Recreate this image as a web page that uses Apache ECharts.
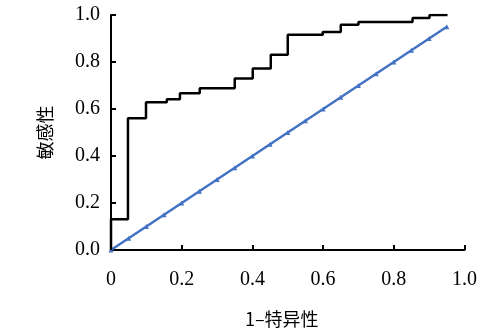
<!DOCTYPE html>
<html>
<head>
<meta charset="utf-8">
<script src="https://cdn.jsdelivr.net/npm/echarts@6/dist/echarts.min.js"></script>
<style>
  html, body { margin: 0; padding: 0; background: #fff; }
  #chart { width: 480px; height: 333px; }
</style>
</head>
<body>
<div id="chart"></div>
<script>
// ROC curve corner points (1-specificity, sensitivity)
const rocFpr = [0, 0, 0.048, 0.099, 0.158, 0.195, 0.251, 0.35, 0.401, 0.452, 0.5, 0.599, 0.65, 0.70, 0.853, 0.901, 0.952];
const rocTpr = [0, 0.131, 0.561, 0.629, 0.641, 0.667, 0.688, 0.73, 0.772, 0.831, 0.916, 0.928, 0.958, 0.97, 0.987, 1.0, 1.0];

// reference diagonal
const refX = [0, 0.05, 0.1, 0.15, 0.2, 0.25, 0.3, 0.35, 0.4, 0.45, 0.5, 0.55, 0.6, 0.65, 0.7, 0.75, 0.8, 0.85, 0.9, 0.95];
const refY = [0, 0.05, 0.1, 0.15, 0.2, 0.25, 0.3, 0.35, 0.4, 0.45, 0.5, 0.55, 0.6, 0.65, 0.7, 0.75, 0.8, 0.85, 0.9, 0.95];

const xTickLabels = ["0", "0.2", "0.4", "0.6", "0.8", "1.0"];
const yTickLabels = ["0.0", "0.2", "0.4", "0.6", "0.8", "1.0"];

const chart = echarts.init(document.getElementById("chart"));

const serif = "'Liberation Serif', 'DejaVu Serif', serif";
const cjk = "'Noto Sans CJK SC', sans-serif";

const axisLine = { show: true, lineStyle: { color: "#000", width: 2 } };
const axisTick = { show: true, inside: true, length: 5, lineStyle: { color: "#000", width: 2 } };

const option = {
  animation: false,
  grid: { left: 111, right: 15, top: 15, bottom: 81 },
  xAxis: {
    type: "value",
    min: 0,
    max: 1,
    interval: 0.2,
    axisLine: axisLine,
    axisTick: axisTick,
    splitLine: { show: false },
    axisLabel: {
      color: "#000",
      fontFamily: serif,
      fontSize: 20,
      margin: 20,
      formatter: (v) => xTickLabels[Math.round(v / 0.2)]
    },
    name: "1\u2013特异性",
    nameLocation: "middle",
    nameGap: 60,
    nameTextStyle: { color: "#000", fontFamily: cjk, fontSize: 18, padding: [0, 12, 0, 0] }
  },
  yAxis: {
    type: "value",
    min: 0,
    max: 1,
    interval: 0.2,
    axisLine: axisLine,
    axisTick: axisTick,
    splitLine: { show: false },
    axisLabel: {
      color: "#000",
      fontFamily: serif,
      fontSize: 20,
      margin: 11,
      formatter: (v) => yTickLabels[Math.round(v / 0.2)]
    },
    name: "敏感性",
    nameLocation: "middle",
    nameRotate: 90,
    nameGap: 57,
    nameTextStyle: { color: "#000", fontFamily: cjk, fontSize: 18 }
  },
  series: [
    {
      name: "reference",
      type: "line",
      data: refX.map((x, i) => [x, refY[i]]),
      symbol: "triangle",
      symbolSize: 5,
      showSymbol: true,
      itemStyle: { color: "#4472c4" },
      lineStyle: { color: "#4472c4", width: 2.5 },
      z: 2
    },
    {
      name: "ROC",
      type: "line",
      step: "end",
      data: rocFpr.map((x, i) => [x, rocTpr[i]]),
      showSymbol: false,
      lineStyle: { color: "#000", width: 2.5 },
      z: 3
    }
  ]
};

chart.setOption(option);
</script>
</body>
</html>
